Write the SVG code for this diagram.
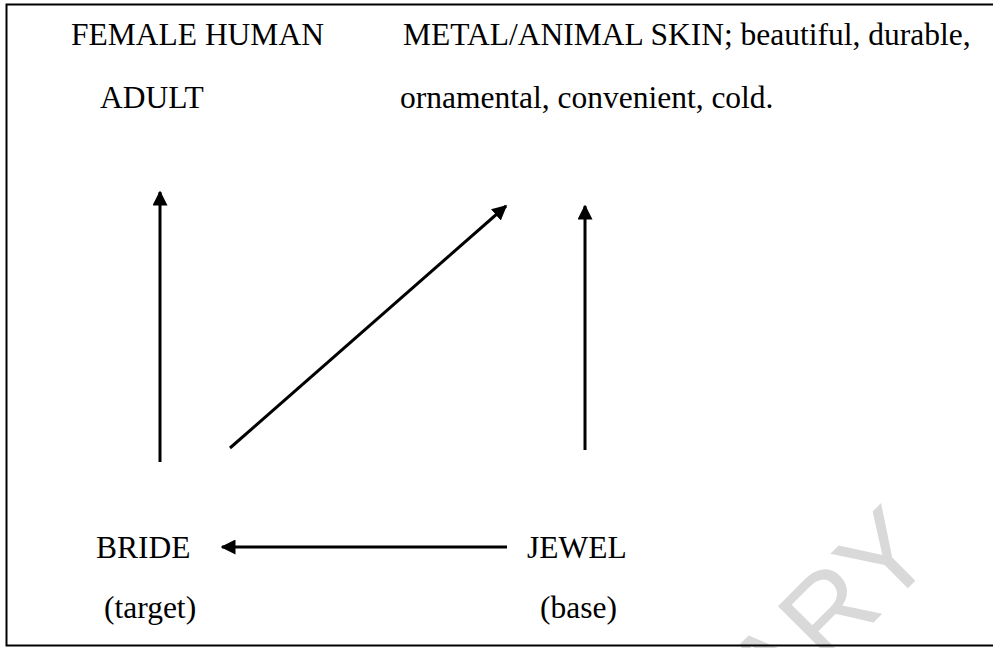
<svg xmlns="http://www.w3.org/2000/svg" width="993" height="648" viewBox="0 0 993 648">
<style>
.t{font-family:"Liberation Serif","Times New Roman",serif;font-size:31.5px;fill:#000}
.c{stroke:#000;stroke-width:3;fill:none}
.wm{font-family:"Liberation Sans",Arial,sans-serif;font-size:115px;fill:#d9d9d9}
</style>
<defs>
<marker id="ah" viewBox="0 0 10 10" refX="9" refY="5" markerWidth="5" markerHeight="5" markerUnits="strokeWidth" orient="auto">
<path d="M0,0 L10,5 L0,10 z" fill="#000"/>
</marker>
</defs>
<rect x="0" y="0" width="993" height="648" fill="#fff"/>
<g id="watermark">
<text class="wm" transform="translate(773,723) rotate(-45)">ARY</text>
</g>
<rect id="frame" x="6.5" y="4.5" width="1000" height="641" fill="none" stroke="#000" stroke-width="2"/>
<g id="female-human"><text class="t" x="71" y="45">FEMALE HUMAN</text></g>
<g id="metal"><text class="t" x="403" y="45">METAL/ANIMAL SKIN; beautiful, durable,</text></g>
<g id="adult"><text class="t" x="100" y="108">ADULT</text></g>
<g id="ornamental"><text class="t" x="400" y="108">ornamental, convenient, cold.</text></g>
<g id="bride"><text class="t" x="96" y="558">BRIDE</text></g>
<g id="jewel"><text class="t" x="527" y="558">JEWEL</text></g>
<g id="target"><text class="t" x="104" y="618">(target)</text></g>
<g id="base"><text class="t" x="540" y="618">(base)</text></g>
<g id="connectors">
<line class="c" x1="160" y1="462" x2="160" y2="192" marker-end="url(#ah)"/>
<line class="c" x1="230" y1="448" x2="506" y2="206" marker-end="url(#ah)"/>
<line class="c" x1="585" y1="450" x2="585" y2="206" marker-end="url(#ah)"/>
<line class="c" x1="507" y1="547" x2="222" y2="547" marker-end="url(#ah)"/>
</g>
</svg>
